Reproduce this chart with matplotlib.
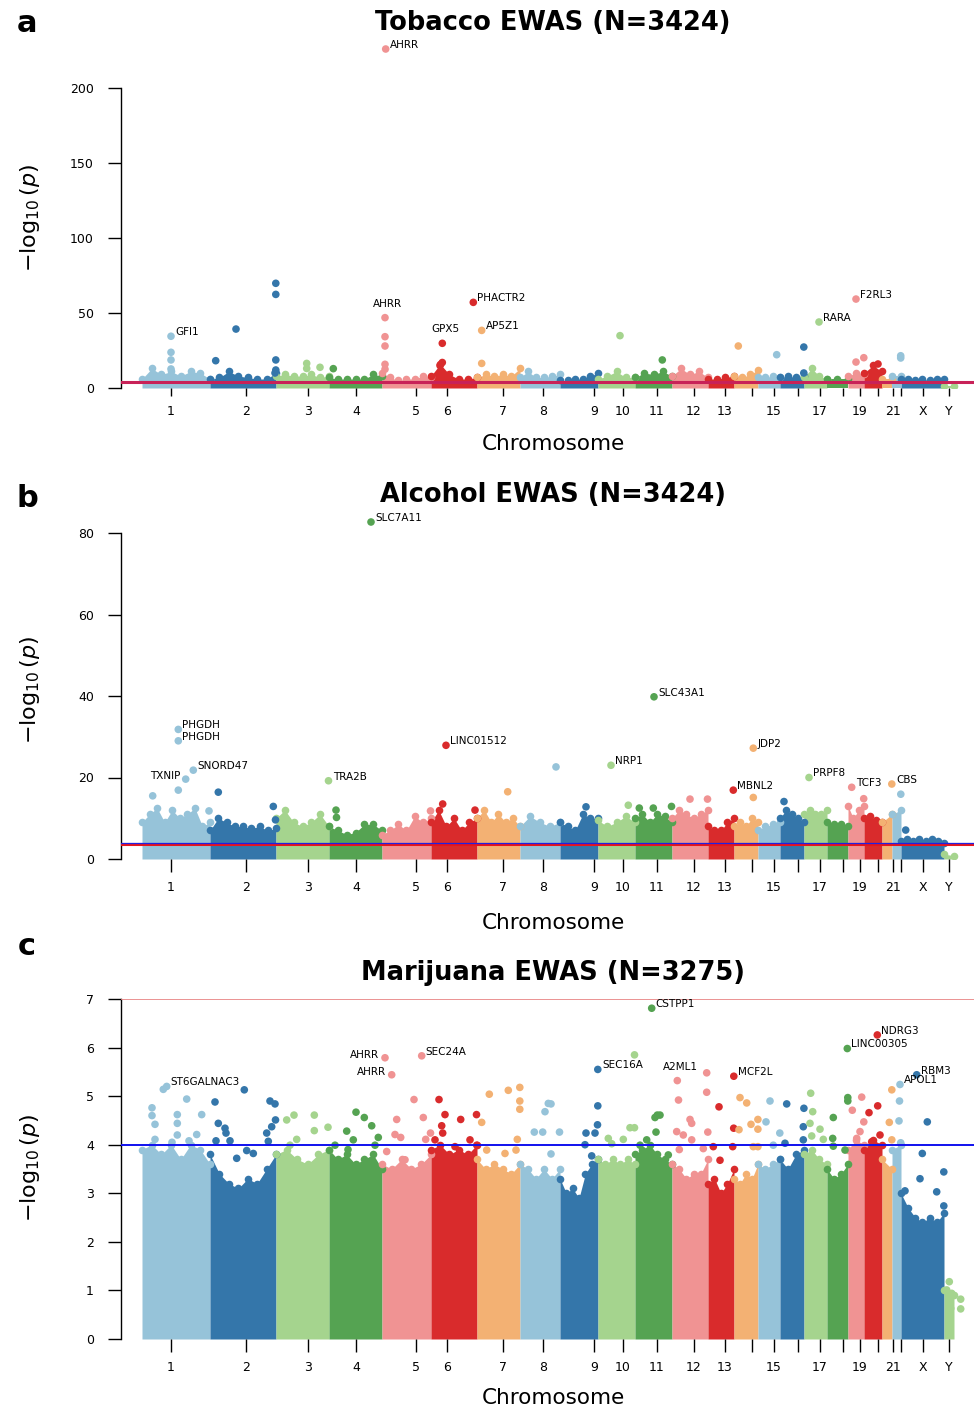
import matplotlib
matplotlib.use('Agg')
import matplotlib.pyplot as plt
import numpy as np

# ---------------- layout data (genomic x axis) ----------------
CHROMS = [str(i) for i in range(1, 23)] + ['X', 'Y']
CHROM_WIDTH = [68, 66, 53, 53, 49, 46, 43, 40, 38, 37, 37, 36, 26, 24, 22, 24,
               23, 21, 16, 18, 10, 9, 43, 10]
TICK_POS = [29, 104, 166, 214, 274, 305, 361, 401, 452, 481, 515, 552, 583, 610,
            632, 656, 678, 701, 718, 736, 751, 759, 781, 807]
TICK_LABELS = ['1', '2', '3', '4', '5', '6', '7', '8', '9', '10', '11', '12', '13', '',
               '15', '', '17', '', '19', '', '21', '', 'X', 'Y']
PALETTE = ['#96c3d9', '#3476aa', '#a5d48e', '#55a352', '#f09393', '#d92b2c', '#f3b173']

# ---------------- panel a: Tobacco ----------------
A_MASS = [
    [6, 13, 9, 11, 8, 11, 10, 6], [6, 7, 11, 8, 7, 6, 6, 10], [8, 9, 8, 8, 9, 7, 8],
    [7, 6, 6, 6, 6, 9, 8], [10, 7, 5, 6, 6, 8, 7], [8, 16, 9, 6, 6, 7], [7, 9, 8, 9, 8, 13],
    [7, 11, 7, 7, 8, 9], [5, 5, 6, 6, 8, 10], [6, 8, 11, 7, 7], [7, 10, 9, 11, 8],
    [8, 13, 9, 11, 7], [6, 6, 7, 8], [8, 7, 9, 12], [7, 7, 8, 7], [7, 8, 7, 8],
    [7, 13, 8, 6], [6, 6, 6], [8, 10, 9], [10, 15, 11], [6, 6], [8, 8],
    [6, 6, 5, 6, 5, 6, 6], [1.5, 1.5]]
A_POINTS = [
    ('1', 29, 34.5), ('1', 29, 23.8), ('1', 29, 18.7), ('1', 29, 12.7),
    ('2', 5.7, 18.2), ('2', 26, 39.3), ('2', 65.8, 69.8), ('2', 65.8, 62.4),
    ('2', 65.8, 18.7), ('2', 65.8, 12), ('2', 65, 10),
    ('3', 30.7, 16.4), ('3', 30.7, 13), ('3', 44, 13.8), ('4', 4.3, 12.9),
    ('5', 3.7, 226), ('5', 3, 46.9), ('5', 3, 34.2), ('5', 3, 28), ('5', 3, 15.8), ('5', 3, 12.5),
    ('6', 11.3, 29.8), ('6', 11.3, 17), ('6', 9, 15), ('6', 42.3, 57.1),
    ('7', 4.7, 38.4), ('7', 4.7, 16.4), ('10', 22, 34.9), ('11', 27.3, 18.7),
    ('14', 4.3, 28), ('15', 18.7, 22.2), ('16', 23.8, 27.3), ('16', 23.8, 10),
    ('17', 15, 44), ('19', 8, 59.3), ('19', 8, 17.3), ('19', 15.8, 20.2),
    ('20', 14, 16), ('22', 8.7, 21.5), ('22', 8.7, 20)]
A_LABELS = [('5', 3.7, 226, 'AHRR'), ('5', 3, 46.9, 'AHRR'), ('1', 29, 34.5, 'GFI1'),
            ('6', 11.3, 29.8, 'GPX5'), ('6', 42.3, 57.1, 'PHACTR2'),
            ('7', 4.7, 38.4, 'AP5Z1'), ('17', 15, 44, 'RARA'), ('19', 8, 59.3, 'F2RL3')]

# ---------------- panel b: Alcohol ----------------
B_MASS = [
    [9, 11, 12.5, 9, 12, 10, 11, 12.5, 8, 9], [7, 10, 9, 8, 8, 7.5, 8, 7, 7.5],
    [10, 12, 9, 8, 9, 11, 8], [8, 7, 6, 6.5, 8.5, 8.5, 7], [6, 7, 8.5, 7, 10.5, 9, 10],
    [9, 12, 8, 10, 7, 9, 10], [10, 12, 9, 11, 9, 10, 8], [8, 10.5, 9, 8, 9],
    [9, 8, 7, 11, 10, 10], [9.5, 8, 9, 10.5, 9], [10, 11, 9, 11, 10.5, 9],
    [10, 12, 11, 10, 11, 12], [8, 7, 7, 9, 10], [8, 9, 8, 10, 9], [7, 8, 8.5, 9],
    [10, 12, 11, 10, 9], [11, 12, 11, 11, 12], [9, 8.5, 8.5, 8], [13, 10, 12, 13],
    [10, 10.5, 9.5, 9], [9, 11], [11, 12], [4.5, 5, 4.5, 5, 4.5, 5, 4.5, 4], [1.2, 0.8]]
B_POINTS = [
    ('4', 42, 82.7), ('11', 19, 39.8), ('1', 36.3, 31.8), ('1', 36.3, 29.0),
    ('1', 51.3, 21.8), ('1', 43.7, 19.6), ('1', 36.3, 16.9), ('1', 10.7, 15.5), ('1', 67, 11.8),
    ('2', 8.3, 16.4), ('2', 63.3, 12.9), ('2', 65.5, 9.6), ('3', 52.5, 19.2),
    ('4', 7, 12), ('4', 7.5, 10.2), ('5', 48.5, 11.8), ('6', 11.7, 13.5), ('6', 15, 27.9),
    ('6', 44, 12), ('7', 30.7, 16.5), ('8', 36, 22.6), ('9', 26, 12.8), ('10', 13, 23.0),
    ('10', 30.3, 13.2), ('11', 4.3, 12.5), ('11', 18.3, 12.5), ('11', 36.5, 12.9),
    ('12', 18, 14.7), ('12', 35.5, 14.7), ('13', 25.3, 16.9), ('14', 19.3, 27.2),
    ('14', 19.3, 15.1), ('16', 4, 14.1), ('17', 5, 20.0), ('19', 3.7, 17.6),
    ('19', 15.7, 14.8), ('21', 9.8, 18.4), ('22', 8.8, 15.9), ('X', 4.7, 7.1)]
B_LABELS = [('4', 42, 82.7, 'SLC7A11'), ('11', 19, 39.8, 'SLC43A1'),
            ('1', 36.3, 31.8, 'PHGDH'), ('1', 36.3, 29.0, 'PHGDH'),
            ('1', 51.3, 21.8, 'SNORD47'), ('1', 43.7, 19.6, 'TXNIP'),
            ('3', 52.5, 19.2, 'TRA2B'), ('6', 15, 27.9, 'LINC01512'),
            ('10', 13, 23.0, 'NRP1'), ('13', 25.3, 16.9, 'MBNL2'), ('14', 19.3, 27.2, 'JDP2'),
            ('17', 5, 20.0, 'PRPF8'), ('19', 3.7, 17.6, 'TCF3'), ('21', 9.8, 18.4, 'CBS')]

# ---------------- panel c: Marijuana ----------------
C_MASS = [
    [3.9, 4.0, 3.8, 4.0, 3.7, 4.0, 3.9, 3.6], [3.8, 3.4, 3.2, 3.1, 3.3, 3.2, 3.5, 3.8],
    [3.8, 3.9, 3.7, 3.6, 3.8, 3.9], [3.9, 3.7, 3.8, 3.6, 3.7, 3.8, 3.5],
    [3.6, 3.5, 3.7, 3.5, 3.6, 3.8], [3.9, 4.0, 3.8, 3.9, 3.8, 4.0],
    [3.7, 3.5, 3.6, 3.5, 3.4, 3.6], [3.6, 3.5, 3.3, 3.5, 3.3, 3.5],
    [3.3, 3.0, 3.1, 2.9, 3.4, 3.6, 3.7], [3.7, 3.6, 3.7, 3.6, 3.7, 3.6],
    [3.8, 3.9, 4.0, 3.8, 3.7, 3.6], [3.6, 3.5, 3.3, 3.4, 3.4, 3.7],
    [3.2, 3.3, 3.0, 3.2, 3.5], [3.3, 3.2, 3.4, 3.3, 3.6], [3.6, 3.5, 3.6, 3.7],
    [3.7, 3.5, 3.8, 3.9], [3.8, 3.9, 3.7, 3.6], [3.5, 3.3, 3.4, 3.6], [3.9, 4.1, 4.0],
    [3.9, 4.1, 4.0], [3.7, 3.5], [3.9, 4.0], [3.0, 2.7, 2.5, 2.4, 2.5, 2.4, 2.6], [1.0, 0.9]]
C_POINTS = [
    ('1', 24.7, 5.2), ('1', 21.3, 5.14), ('1', 44.7, 4.94), ('1', 10, 4.76), ('1', 10, 4.6),
    ('1', 35.3, 4.62), ('1', 59.7, 4.62), ('1', 35.3, 4.44), ('1', 13, 4.42), ('1', 35.3, 4.2),
    ('1', 54.7, 4.21), ('1', 13, 4.11), ('1', 30, 4.05), ('1', 47, 4.08),
    ('2', 5, 4.88), ('2', 34.3, 5.13), ('2', 60, 4.9), ('2', 65, 4.84), ('2', 8.3, 4.44),
    ('2', 15, 4.34), ('2', 16, 4.24), ('2', 20, 4.08), ('2', 6, 4.08), ('2', 65.5, 4.51),
    ('2', 61.7, 4.37), ('2', 56.7, 4.24), ('2', 58.3, 4.07), ('2', 36.7, 3.88),
    ('2', 43.3, 3.82), ('2', 26.7, 3.72),
    ('3', 18, 4.61), ('3', 38.3, 4.61), ('3', 10.7, 4.51), ('3', 38.3, 4.29), ('3', 52, 4.36),
    ('3', 20.7, 4.11), ('3', 14, 3.99),
    ('4', 27, 4.67), ('4', 35.3, 4.56), ('4', 42.7, 4.39), ('4', 17.7, 4.28), ('4', 24.3, 4.1),
    ('4', 49.3, 4.15), ('4', 46, 3.99), ('4', 6, 3.99), ('4', 19, 3.9),
    ('5', 3, 5.79), ('5', 9.7, 5.44), ('5', 39.7, 5.83), ('5', 32, 4.93), ('5', 41.3, 4.56),
    ('5', 14.7, 4.52), ('5', 13, 4.21), ('5', 18.7, 4.15), ('5', 48.5, 4.24), ('5', 43.7, 4.11),
    ('5', 4.7, 3.86), ('5', 23, 3.69),
    ('6', 8, 4.93), ('6', 14, 4.62), ('6', 29.7, 4.52), ('6', 45.5, 4.62), ('6', 10.7, 4.39),
    ('6', 11.7, 4.24), ('6', 4, 4.1), ('6', 24, 3.96), ('6', 39, 4.1), ('6', 45.8, 3.99),
    ('7', 12.3, 5.04), ('7', 31.3, 5.12), ('7', 42.8, 5.18), ('7', 42.8, 4.9), ('7', 42.8, 4.73),
    ('7', 4.7, 4.46), ('7', 40.3, 4.11), ('7', 9.7, 3.89), ('7', 28, 3.82), ('7', 39, 3.89),
    ('8', 25, 4.68), ('8', 14.3, 4.26), ('8', 22.7, 4.26), ('8', 28.3, 4.85), ('8', 31, 4.84),
    ('8', 39.5, 4.26), ('8', 31, 3.81),
    ('9', 37.8, 5.55), ('9', 37.8, 4.8), ('9', 37.5, 4.41), ('9', 35, 4.24), ('9', 26, 4.24),
    ('9', 25, 4.0), ('9', 31.7, 3.77),
    ('10', 36.5, 5.85), ('10', 32, 4.35), ('10', 36.5, 4.35), ('10', 10.3, 4.13),
    ('10', 25.3, 4.11), ('10', 13.7, 4.02),
    ('11', 16.7, 6.81), ('11', 22.3, 4.61), ('11', 20, 4.56), ('11', 25, 4.61), ('11', 21, 4.26),
    ('11', 11.7, 4.1), ('11', 5, 3.99), ('11', 33.3, 3.79),
    ('12', 5.3, 5.32), ('12', 34.7, 5.48), ('12', 6.5, 4.92), ('12', 34.7, 5.08), ('12', 18, 4.52),
    ('12', 19.7, 4.44), ('12', 4.7, 4.27), ('12', 11.3, 4.2), ('12', 19.7, 4.1),
    ('12', 35.8, 4.26), ('12', 7.3, 3.9), ('12', 31.3, 3.92),
    ('13', 25.8, 5.41), ('13', 11, 4.78), ('13', 25.7, 4.34), ('13', 5.3, 3.96),
    ('13', 24.7, 3.96), ('13', 12, 3.68),
    ('14', 6, 4.97), ('14', 12.7, 4.86), ('14', 17, 4.42), ('14', 23.9, 4.52), ('14', 23.9, 4.32),
    ('14', 5, 4.31), ('14', 19.3, 3.96), ('14', 23.9, 3.96),
    ('15', 12, 4.9), ('15', 8, 4.47), ('15', 21.8, 4.24), ('15', 15.3, 3.99),
    ('16', 6.7, 4.84), ('16', 23.9, 4.75), ('16', 23.3, 4.37), ('16', 5, 4.03), ('16', 23.3, 4.1),
    ('17', 6.7, 5.06), ('17', 8.7, 4.68), ('17', 6, 4.44), ('17', 16, 4.32), ('17', 19.3, 4.11),
    ('17', 7.7, 4.18),
    ('18', 20.3, 5.98), ('18', 20.8, 4.97), ('18', 20.8, 4.9), ('18', 6.3, 4.56),
    ('18', 5.7, 4.13), ('18', 6.3, 3.97), ('18', 18, 3.89),
    ('19', 13.7, 4.98), ('19', 4.3, 4.71), ('19', 15.8, 4.47), ('19', 12, 4.27), ('19', 8.7, 4.13),
    ('20', 13.3, 6.26), ('20', 13.7, 4.8), ('20', 5, 4.66), ('20', 16, 4.2), ('20', 7.7, 4.06),
    ('21', 9.8, 5.13), ('21', 7.3, 4.46), ('21', 9.8, 4.1),
    ('22', 8.0, 5.24), ('22', 7.5, 4.9), ('22', 7, 4.49), ('22', 8.7, 4.04),
    ('X', 15.7, 5.44), ('X', 26.3, 4.47), ('X', 21.3, 3.82), ('X', 42.8, 3.44),
    ('X', 35.7, 3.03), ('X', 42.8, 2.74), ('X', 19, 3.3), ('X', 4, 3.05),
    ('Y', 5.3, 1.18), ('Y', 2.7, 1.01), ('Y', 7.7, 0.94), ('Y', 16.7, 0.82),
    ('Y', 16.7, 0.62), ('Y', 6.7, 0.63)]
C_LABELS = [('1', 24.7, 5.2, 'ST6GALNAC3'), ('5', 3, 5.79, 'AHRR'), ('5', 9.7, 5.44, 'AHRR'),
            ('5', 39.7, 5.83, 'SEC24A'), ('9', 37.8, 5.55, 'SEC16A'),
            ('11', 16.7, 6.81, 'CSTPP1'), ('12', 5.3, 5.32, 'A2ML1'),
            ('13', 25.8, 5.41, 'MCF2L'), ('18', 20.3, 5.98, 'LINC00305'),
            ('20', 13.3, 6.26, 'NDRG3'), ('22', 8.0, 5.24, 'APOL1'), ('X', 15.7, 5.44, 'RBM3')]

# label placement (style, not data)
LABEL_SIDE = {
    'a': ['r', 'a', 'r', 'a', 'r', 'r', 'r', 'r'],
    'b': ['r', 'r', 'r', 'r', 'r', 'l', 'r', 'r', 'r', 'r', 'r', 'r', 'r', 'r'],
    'c': ['r', 'l', 'l', 'r', 'r', 'r', 'a', 'r', 'r', 'r', 'r', 'r'],
}

# ---------------- drawing ----------------
W, H = 974, 1406
fig = plt.figure(figsize=(W / 100, H / 100), dpi=100)
starts = np.concatenate([[0], np.cumsum(CHROM_WIDTH)[:-1]])
cidx = {c: i for i, c in enumerate(CHROMS)}
MS = 30


def color_of(i):
    return PALETTE[i % len(PALETTE)]


def gx(chrom, pos):
    return starts[cidx[chrom]] + pos


def rect(top, bottom):
    return [121 / W, 1 - bottom / H, (974 - 121) / W, (bottom - top) / H]


def panel(ax, mass, points, labels, sides, ymax, yticks, xtick_len, lines):
    for i, env in enumerate(mass):
        xs = starts[i] + np.linspace(0, CHROM_WIDTH[i], len(env))
        col = color_of(i)
        ax.fill_between(xs, 0, env, color=col, lw=0, zorder=1)
        ax.scatter(xs, env, s=MS, color=col, lw=0, zorder=2)
    px = [gx(c, p) for c, p, v in points]
    py = [v for c, p, v in points]
    pc = [color_of(cidx[c]) for c, p, v in points]
    ax.scatter(px, py, s=MS, c=pc, lw=0, zorder=3, clip_on=False)
    for (c, p, v, t), s in zip(labels, sides):
        x = gx(c, p)
        if s == 'r':
            ax.annotate(t, (x, v), xytext=(3, 3), textcoords='offset points',
                        ha='left', va='center', fontsize=7.5, zorder=5, annotation_clip=False)
        elif s == 'l':
            ax.annotate(t, (x, v), xytext=(-4, 2), textcoords='offset points',
                        ha='right', va='center', fontsize=7.5, zorder=5, annotation_clip=False)
        else:
            ax.annotate(t, (x, v), xytext=(2, 10), textcoords='offset points',
                        ha='center', va='center', fontsize=7.5, zorder=5, annotation_clip=False)
    for yv, col, lw in lines:
        ax.axhline(yv, color=col, lw=lw, zorder=4)
    ax.set_xlim(-21, 832)
    ax.set_ylim(0, ymax)
    for s in ['top', 'right', 'bottom']:
        ax.spines[s].set_visible(False)
    ax.spines['left'].set_bounds(yticks[0], yticks[-1])
    ax.spines['left'].set_linewidth(1.0)
    ax.set_yticks(yticks)
    ax.set_xticks(TICK_POS)
    ax.set_xticklabels(TICK_LABELS)
    ax.tick_params(axis='y', length=9.5, width=1.0, pad=10, labelsize=9)
    ax.tick_params(axis='x', length=xtick_len, width=1.0, pad=6, labelsize=9)


axA = fig.add_axes(rect(88, 388))
panel(axA, A_MASS, A_POINTS, A_LABELS, LABEL_SIDE['a'], 200, [0, 50, 100, 150, 200], 6,
      [(4.0, '#3030d0', 0.8), (4.0, '#c82258', 2.2)])
axB = fig.add_axes(rect(533, 859))
panel(axB, B_MASS, B_POINTS, B_LABELS, LABEL_SIDE['b'], 80, [0, 20, 40, 60, 80], 9.5,
      [(3.7, '#e8141c', 2.2), (4.0, '#2020e0', 0.9)])
axC = fig.add_axes(rect(999, 1339))
panel(axC, C_MASS, C_POINTS, C_LABELS, LABEL_SIDE['c'], 7, list(range(8)), 9.5,
      [(4.0, '#1010ee', 1.4), (7.0, '#e88080', 1.2)])

TITLES = ['Tobacco EWAS (N=3424)', 'Alcohol EWAS (N=3424)', 'Marijuana EWAS (N=3275)']
for letter, title, ty, xly, yly, ly in [('a', TITLES[0], 23.5, 450, 218, 32),
                                        ('b', TITLES[1], 494.5, 929, 690, 507),
                                        ('c', TITLES[2], 973.5, 1404, 1168, 955)]:
    fig.text(553 / W, 1 - ty / H, title, ha='center', va='center', fontsize=18.5,
             fontweight='bold')
    fig.text(553 / W, 1 - xly / H, 'Chromosome', ha='center', va='baseline', fontsize=15.5)
    fig.text(30 / W, 1 - yly / H, r'$-\log_{10}(p)$', ha='center', va='center',
             fontsize=16, rotation=90)
    fig.text(27 / W, 1 - ly / H, letter, ha='center', va='baseline', fontsize=22,
             fontweight='bold')

fig.savefig('out.png', dpi=100)
